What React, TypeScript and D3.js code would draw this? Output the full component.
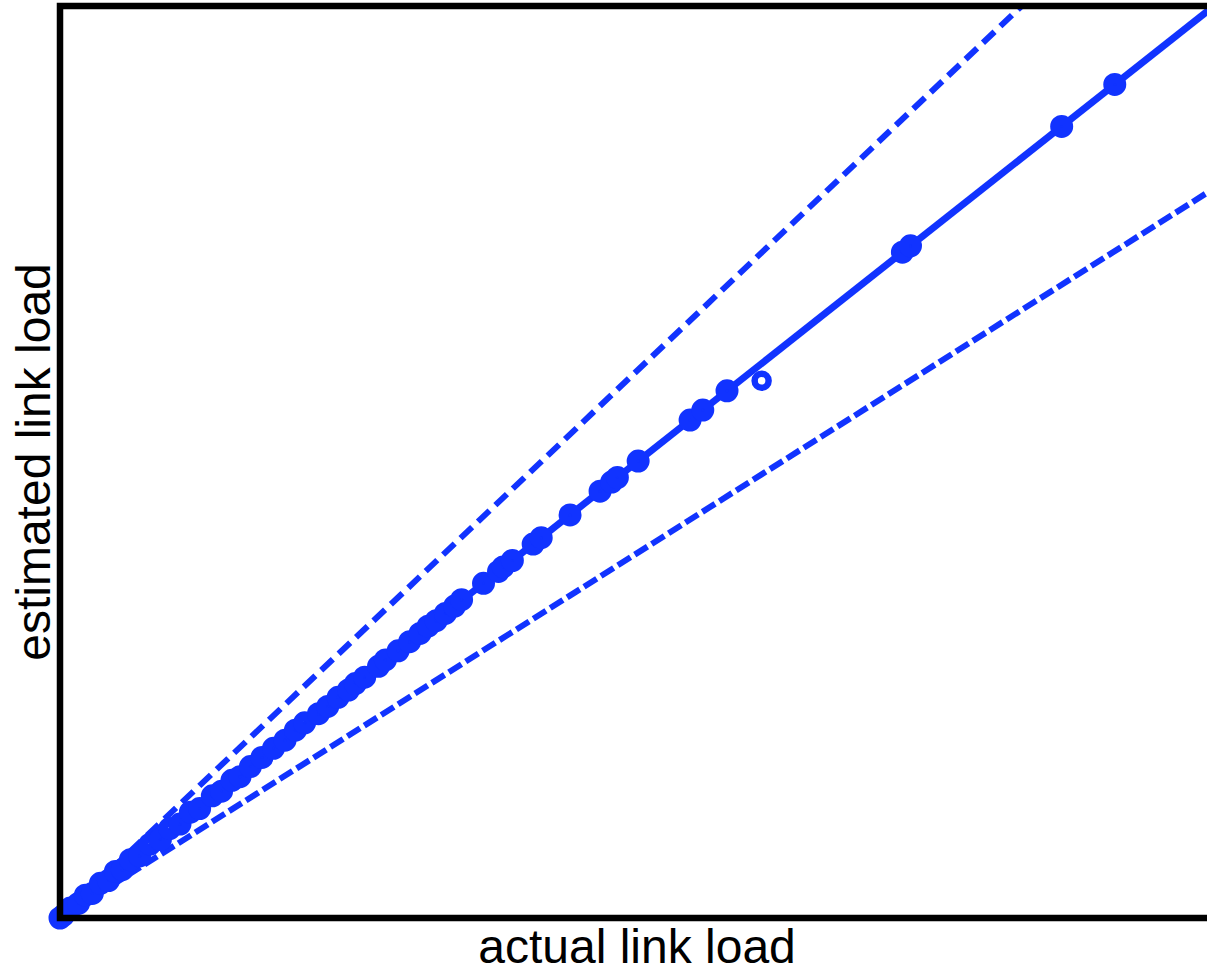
import { useEffect, useRef } from "react"
import * as d3 from "d3"

// actual vs estimated link load (normalised to the plot's range)
const actualLoad = [
  0.0, 0.003, 0.009, 0.016, 0.022, 0.028, 0.035, 0.042, 0.048, 0.054, 0.061, 0.069, 0.078, 0.087,
  0.095, 0.104, 0.113, 0.121, 0.132, 0.14, 0.149, 0.156, 0.165, 0.175, 0.185, 0.195, 0.204, 0.212,
  0.224, 0.232, 0.241, 0.25, 0.256, 0.264, 0.276, 0.282, 0.293, 0.303, 0.312, 0.319, 0.326, 0.334,
  0.342, 0.348, 0.367, 0.38, 0.384, 0.392, 0.41, 0.417, 0.442, 0.468, 0.478, 0.483, 0.501, 0.546,
  0.557, 0.578, 0.73, 0.737, 0.868, 0.914,
]
const estimatedLoad = [
  0.0, 0.003, 0.011, 0.016, 0.025, 0.027, 0.038, 0.041, 0.051, 0.053, 0.064, 0.068, 0.081, 0.086,
  0.098, 0.103, 0.116, 0.12, 0.134, 0.139, 0.151, 0.155, 0.166, 0.176, 0.186, 0.195, 0.206, 0.214,
  0.224, 0.232, 0.242, 0.25, 0.257, 0.264, 0.276, 0.283, 0.293, 0.303, 0.312, 0.32, 0.326, 0.334,
  0.342, 0.349, 0.367, 0.38, 0.385, 0.392, 0.41, 0.417, 0.442, 0.468, 0.478, 0.483, 0.501, 0.546,
  0.557, 0.578, 0.73, 0.737, 0.868, 0.914,
]

// the one link whose estimate falls off the diagonal
const outlierActual = [0.608]
const outlierEstimated = [0.589]

// reference lines: estimate = k * actual
const refLines = [
  { k: 1, dash: null },
  { k: 1.2, dash: "16,8" },
  { k: 0.8, dash: "15,5" },
]

const BLUE = "#1133ff"

export default function App() {
  const svgRef = useRef<SVGSVGElement>(null)

  useEffect(() => {
    if (!svgRef.current) return
    const svg = d3.select(svgRef.current)
    svg.selectAll("*").remove()

    const x = d3.scaleLinear().domain([0, 1]).range([60, 1214])
    const y = d3.scaleLinear().domain([0, 1]).range([918, 6])

    // * Clip to plot box
    svg
      .append("defs")
      .append("clipPath")
      .attr("id", "plot-clip")
      .append("rect")
      .attr("x", x(0) - 12)
      .attr("y", y(1))
      .attr("width", x(1) - x(0) + 12)
      .attr("height", y(0) - y(1) + 12)

    const g = svg.append("g").attr("clip-path", "url(#plot-clip)")

    // * Reference lines
    refLines.forEach((l) => {
      const xEnd = Math.min(1, 1 / l.k)
      g.append("line")
        .attr("x1", x(0))
        .attr("y1", y(0))
        .attr("x2", x(xEnd))
        .attr("y2", y(xEnd * l.k))
        .attr("stroke", BLUE)
        .attr("stroke-width", l.dash ? 6 : 7)
        .attr("stroke-dasharray", l.dash ?? "none")
    })

    // * Markers (heavy open circles, the hole hidden by the line)
    actualLoad.forEach((a, i) => {
      g.append("circle")
        .attr("cx", x(a))
        .attr("cy", y(estimatedLoad[i]))
        .attr("r", 6.5)
        .attr("fill", "none")
        .attr("stroke", BLUE)
        .attr("stroke-width", 10)
    })

    outlierActual.forEach((a, i) => {
      g.append("circle")
        .attr("cx", x(a))
        .attr("cy", y(outlierEstimated[i]))
        .attr("r", 7)
        .attr("fill", "none")
        .attr("stroke", BLUE)
        .attr("stroke-width", 6.5)
    })

    // * Axes box
    svg
      .append("path")
      .attr("d", `M${x(0)},${y(1)}H${x(1)}V${y(0)}H${x(0)}Z`)
      .attr("fill", "none")
      .attr("stroke", "#000")
      .attr("stroke-width", 6.5)
      .attr("stroke-linejoin", "miter")

    // * Axis labels
    svg
      .append("text")
      .attr("x", 637)
      .attr("y", 963)
      .attr("text-anchor", "middle")
      .attr("font-family", "'Liberation Sans', Arial, sans-serif")
      .attr("font-size", "48px")
      .attr("fill", "#000")
      .text("actual link load")

    svg
      .append("text")
      .attr("transform", `translate(50,462) rotate(-90)`)
      .attr("text-anchor", "middle")
      .attr("font-family", "'Liberation Sans', Arial, sans-serif")
      .attr("font-size", "48px")
      .attr("fill", "#000")
      .text("estimated link load")
  }, [])

  return (
    <svg
      ref={svgRef}
      width={1207}
      height={973}
      style={{ position: "absolute", left: 0, top: 0, background: "#fff" }}
    ></svg>
  )
}
